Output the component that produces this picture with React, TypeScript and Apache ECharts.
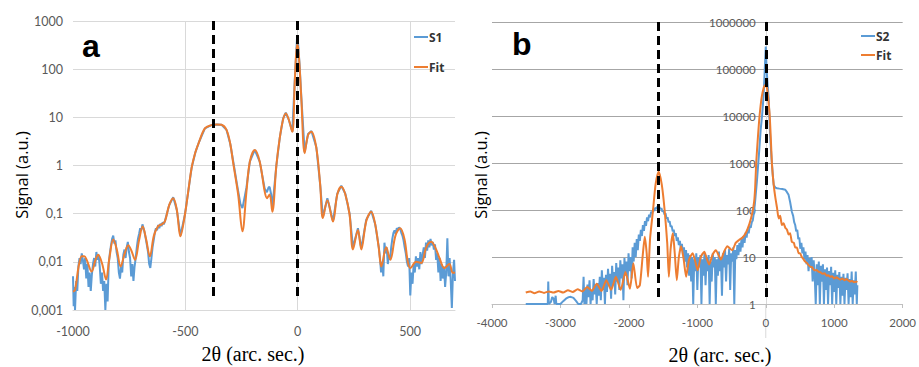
import React, { useEffect, useRef } from "react";
import * as echarts from "echarts";

// ---------- data ----------
const A_X_TICKS = { min: -1000, max: 700, step: 500 };
const B_X_TICKS = { min: -4000, max: 2000, step: 1000 };
const A_Y_RANGE = { min: 0.001, max: 1000 };
const B_Y_RANGE = { min: 1, max: 1000000 };
const A_DASHED_X = [-378, 0];
const B_DASHED_X = [-1565, 0];

const S1: [number, number][] = [
  [-1000, 0.005], [-997, 0.0012], [-994, 0.003], [-991, 0.001], [-986, 0.004], [-981, 0.0025], [-976, 0.008],
  [-971, 0.012], [-966, 0.009], [-961, 0.015], [-956, 0.011], [-951, 0.007], [-946, 0.012], [-941, 0.0045],
  [-936, 0.009], [-931, 0.003], [-926, 0.006], [-921, 0.0025], [-916, 0.0055], [-911, 0.009], [-906, 0.012],
  [-901, 0.008], [-896, 0.016], [-891, 0.011], [-886, 0.014], [-881, 0.008], [-876, 0.0035], [-871, 0.006],
  [-866, 0.0025], [-861, 0.004], [-856, 0.001], [-851, 0.0035], [-846, 0.0015], [-841, 0.009], [-836, 0.015],
  [-831, 0.022], [-826, 0.03], [-821, 0.035], [-816, 0.024], [-811, 0.028], [-806, 0.016], [-801, 0.012],
  [-796, 0.006], [-791, 0.0045], [-786, 0.008], [-781, 0.006], [-776, 0.014], [-771, 0.018], [-766, 0.012],
  [-761, 0.02], [-756, 0.026], [-751, 0.016], [-746, 0.012], [-741, 0.005], [-736, 0.009], [-731, 0.004],
  [-726, 0.008], [-721, 0.012], [-716, 0.02], [-711, 0.03], [-706, 0.038], [-701, 0.05], [-696, 0.045],
  [-691, 0.06], [-686, 0.05], [-681, 0.04], [-676, 0.03], [-671, 0.022], [-666, 0.016], [-661, 0.009],
  [-656, 0.0075], [-651, 0.012], [-646, 0.02], [-641, 0.028], [-636, 0.04], [-631, 0.05], [-626, 0.045],
  [-621, 0.058], [-616, 0.05], [-611, 0.062], [-606, 0.055], [-601, 0.066], [-596, 0.06], [-591, 0.07],
  [-572, 0.15], [-554, 0.22], [-538, 0.12], [-522, 0.035], [-502, 0.095], [-488, 0.27], [-472, 0.9],
  [-455, 1.9], [-440, 3.0], [-413, 5.9], [-384, 6.9], [-360, 7.1], [-339, 7.0], [-317, 5.5], [-300, 2.8],
  [-288, 1.3], [-270, 0.4], [-255, 0.16], [-246, 0.13], [-238, 0.2], [-228, 0.35], [-213, 1.2], [-191, 2.1],
  [-169, 1.2], [-147, 0.33], [-137, 0.28], [-130, 0.35], [-125, 0.36], [-118, 0.25], [-113, 0.13], [-95, 1.0],
  [-80, 3.7], [-65, 9.5], [-53, 12.5], [-40, 9], [-24, 5.0], [-13, 60], [-3, 440], [1, 380], [8, 130],
  [16, 27], [31, 1.9], [46, 4.5], [61, 5.2], [83, 2.4], [100, 0.4], [112, 0.085], [132, 0.21], [157, 0.07],
  [176, 0.26], [194, 0.38], [212, 0.26], [231, 0.1], [246, 0.02], [268, 0.05], [283, 0.019], [305, 0.075],
  [327, 0.115], [345, 0.06], [361, 0.02], [366, 0.012], [371, 0.006], [376, 0.01], [381, 0.005], [386, 0.025],
  [391, 0.015], [396, 0.02], [401, 0.009], [406, 0.014], [411, 0.011], [416, 0.02], [421, 0.03], [426, 0.04],
  [431, 0.045], [436, 0.038], [441, 0.05], [446, 0.046], [451, 0.052], [456, 0.048], [461, 0.04], [466, 0.035],
  [471, 0.028], [476, 0.02], [481, 0.015], [486, 0.01], [491, 0.008], [496, 0.012], [501, 0.002], [506, 0.006],
  [511, 0.0035], [516, 0.009], [521, 0.006], [526, 0.013], [531, 0.008], [536, 0.012], [541, 0.007], [546, 0.016],
  [551, 0.009], [556, 0.014], [561, 0.02], [566, 0.012], [571, 0.025], [576, 0.017], [581, 0.028], [586, 0.02],
  [591, 0.03], [596, 0.022], [601, 0.026], [606, 0.018], [611, 0.023], [616, 0.011], [621, 0.015], [626, 0.006],
  [631, 0.012], [636, 0.004], [641, 0.009], [646, 0.0045], [651, 0.008], [656, 0.003], [661, 0.006], [666, 0.031],
  [671, 0.005], [676, 0.012], [681, 0.004], [686, 0.0011], [691, 0.006], [696, 0.011], [700, 0.004],
];

const FIT_A: [number, number][] = [
  [-1000, 0.0024], [-991, 0.0026], [-975, 0.008], [-961, 0.013], [-950, 0.013], [-939, 0.011], [-917, 0.0063],
  [-900, 0.011], [-888, 0.014], [-870, 0.009], [-853, 0.0043], [-838, 0.012], [-821, 0.029], [-805, 0.018],
  [-788, 0.008], [-770, 0.015], [-754, 0.022], [-740, 0.017], [-724, 0.011], [-706, 0.028], [-690, 0.054],
  [-675, 0.03], [-658, 0.013], [-640, 0.035], [-621, 0.055], [-605, 0.06], [-591, 0.069], [-572, 0.15],
  [-554, 0.21], [-538, 0.12], [-522, 0.034], [-502, 0.095], [-488, 0.27], [-472, 0.9], [-455, 1.9], [-440, 3.0],
  [-413, 5.9], [-384, 6.9], [-360, 7.1], [-339, 7.0], [-317, 5.5], [-300, 2.8], [-288, 1.2], [-265, 0.25],
  [-246, 0.043], [-228, 0.29], [-213, 1.2], [-191, 2.1], [-169, 1.2], [-147, 0.29], [-137, 0.21], [-125, 0.25],
  [-113, 0.11], [-95, 1.0], [-80, 3.7], [-65, 9], [-53, 12], [-40, 9], [-24, 5.0], [-13, 55], [-3, 320],
  [1, 300], [8, 120], [16, 25], [31, 1.8], [46, 4.3], [61, 5.0], [83, 2.3], [100, 0.4], [112, 0.081],
  [132, 0.19], [157, 0.069], [176, 0.25], [194, 0.36], [212, 0.25], [231, 0.095], [246, 0.018], [268, 0.046],
  [283, 0.018], [305, 0.07], [327, 0.11], [345, 0.06], [361, 0.019], [372, 0.008], [394, 0.02], [412, 0.011],
  [435, 0.035], [456, 0.05], [475, 0.03], [490, 0.01], [501, 0.0074], [527, 0.01], [550, 0.0095], [572, 0.02],
  [594, 0.026], [612, 0.02], [631, 0.012], [653, 0.0074], [675, 0.009], [690, 0.0059], [700, 0.006],
];

const S2: [number, number][] = [
  [-3507, 1], [-3400, 1], [-3300, 1], [-3185, 1], [-3178, 3.0], [-3170, 1], [-3140, 1.1], [-3120, 1.4],
  [-3100, 1.3], [-3085, 1], [-3070, 1.5], [-3060, 1], [-3000, 1], [-2960, 1.15], [-2920, 1.3], [-2880, 1.4],
  [-2850, 1.42], [-2810, 1.35], [-2770, 1.15], [-2740, 1], [-2700, 1], [-2675, 1.2], [-2662, 3.8], [-2650, 1],
  [-2635, 2.2], [-2620, 1], [-2605, 2.6], [-2590, 1.4], [-2575, 3.2], [-2560, 1], [-2545, 2.0], [-2530, 1.2],
  [-2515, 3.4], [-2500, 1.6], [-2485, 2.6], [-2470, 1], [-2455, 2.8], [-2440, 1.5], [-2425, 3.8], [-2410, 1.2],
  [-2395, 5.2], [-2380, 2.0], [-2365, 3.6], [-2350, 1], [-2335, 4.2], [-2320, 1.8], [-2305, 5.6], [-2290, 2.4],
  [-2275, 4.4], [-2260, 1.3], [-2245, 6.5], [-2230, 2.5], [-2215, 4.8], [-2200, 1.6], [-2185, 7.4], [-2170, 3.0],
  [-2155, 6.0], [-2140, 2.0], [-2125, 8.5], [-2110, 3.5], [-2095, 7.0], [-2080, 1.2], [-2065, 9.5], [-2050, 4.0],
  [-2035, 8.0], [-2020, 2.5], [-2005, 12], [-1990, 5], [-1975, 10], [-1960, 3.5], [-1945, 16], [-1930, 8],
  [-1915, 20], [-1900, 10], [-1885, 24], [-1870, 14], [-1855, 30], [-1840, 22], [-1825, 38], [-1810, 28],
  [-1795, 48], [-1780, 36], [-1765, 58], [-1750, 46], [-1735, 70], [-1720, 58], [-1705, 80], [-1690, 70],
  [-1675, 92], [-1660, 85], [-1645, 105], [-1630, 95], [-1615, 112], [-1600, 105], [-1585, 118], [-1570, 110],
  [-1555, 117], [-1540, 104], [-1525, 110], [-1510, 92], [-1495, 98], [-1480, 80], [-1465, 85], [-1450, 66],
  [-1435, 70], [-1420, 55], [-1405, 58], [-1390, 44], [-1375, 46], [-1360, 35], [-1345, 38], [-1330, 28],
  [-1315, 32], [-1300, 22], [-1285, 26], [-1270, 18], [-1255, 22], [-1240, 14], [-1225, 19], [-1210, 11],
  [-1195, 16], [-1180, 8], [-1165, 14], [-1150, 6], [-1135, 12], [-1120, 4], [-1105, 11], [-1090, 3],
  [-1075, 10], [-1060, 1], [-1045, 9], [-1030, 5], [-1015, 12], [-1000, 2], [-985, 10], [-970, 6], [-955, 11],
  [-940, 1], [-925, 9], [-910, 4], [-895, 12], [-880, 2.5], [-865, 10], [-850, 5], [-835, 11], [-820, 1],
  [-805, 8], [-790, 3], [-775, 12], [-760, 6], [-745, 10], [-730, 1], [-715, 9], [-700, 4], [-685, 13],
  [-670, 5], [-655, 10], [-640, 1.5], [-625, 12], [-610, 6], [-595, 14], [-580, 3], [-565, 11], [-550, 7],
  [-535, 15], [-520, 2], [-505, 12], [-490, 8], [-475, 16], [-460, 1], [-445, 14], [-430, 9], [-415, 18],
  [-400, 11], [-385, 20], [-370, 13], [-355, 24], [-340, 16], [-325, 28], [-310, 20], [-295, 33], [-280, 26],
  [-265, 38], [-250, 32], [-235, 45], [-220, 42], [-205, 55], [-190, 60], [-175, 85], [-160, 130], [-130, 400],
  [-100, 1500], [-75, 5000], [-53, 10500], [-30, 30000], [-12, 120000], [0, 300000], [12, 100000], [30, 40000],
  [43, 24000], [60, 5000], [75, 2000], [91, 910], [105, 500], [116, 340], [140, 300], [164, 290], [200, 285],
  [240, 280], [285, 270], [310, 240], [333, 210], [355, 150], [381, 92], [400, 75], [415, 55], [430, 48],
  [445, 35], [460, 38], [475, 24], [490, 26], [505, 15], [520, 20], [535, 12], [550, 16], [565, 9], [580, 13],
  [595, 7], [610, 11], [625, 5], [640, 9.5], [655, 6], [670, 10], [685, 3], [700, 8.5], [715, 4], [730, 1],
  [745, 7], [760, 2.5], [775, 8], [790, 1], [805, 6.5], [820, 3], [835, 7], [850, 1], [865, 5.5], [880, 2],
  [895, 6], [910, 1], [925, 5], [940, 2.5], [955, 6.2], [970, 1], [985, 4.6], [1000, 1.8], [1015, 5.2],
  [1030, 1], [1045, 4.2], [1060, 2.2], [1075, 4.8], [1090, 1], [1105, 3.8], [1120, 1.5], [1135, 4.4],
  [1150, 1], [1165, 3.6], [1180, 2], [1195, 4.5], [1210, 1], [1225, 3.4], [1240, 1.4], [1255, 4.9],
  [1270, 1], [1285, 3.2], [1300, 1.6], [1315, 4.9], [1330, 1], [1338, 2.5],
];

const FIT_B: [number, number][] = [
  [-3507, 1.75], [-3440, 1.85], [-3380, 1.7], [-3310, 1.85], [-3240, 1.72], [-3170, 1.85], [-3100, 1.75],
  [-3030, 1.9], [-2960, 1.75], [-2890, 1.95], [-2820, 1.8], [-2750, 2.05], [-2680, 1.85], [-2610, 2.3],
  [-2540, 1.9], [-2470, 2.7], [-2400, 1.9], [-2330, 3.2], [-2260, 2.0], [-2190, 3.8], [-2120, 2.0],
  [-2050, 4.8], [-1985, 2.1], [-1935, 7.4], [-1880, 2.2], [-1840, 2.5], [-1800, 10], [-1768, 27], [-1740, 12],
  [-1720, 3.8], [-1690, 25], [-1647, 100], [-1610, 350], [-1565, 650], [-1520, 350], [-1478, 100], [-1440, 20],
  [-1416, 3.8], [-1390, 15], [-1357, 32], [-1330, 12], [-1300, 3.2], [-1270, 10], [-1236, 17], [-1200, 9],
  [-1164, 3.8], [-1120, 9], [-1068, 12], [-1030, 8], [-995, 5.2], [-950, 10], [-898, 13], [-860, 9],
  [-826, 6.9], [-780, 11], [-729, 14], [-690, 11], [-656, 8.8], [-610, 13], [-561, 17], [-520, 15],
  [-488, 14], [-440, 20], [-391, 23], [-340, 26], [-294, 32], [-240, 50], [-198, 85], [-170, 150],
  [-155, 300], [-140, 1000], [-115, 3500], [-91, 10000], [-60, 25000], [-30, 40000], [-5, 46000], [20, 38000],
  [40, 20000], [58, 10000], [75, 3000], [91, 910], [115, 350], [141, 178], [165, 110], [188, 66], [210, 75],
  [236, 48], [260, 52], [285, 42], [310, 38], [333, 30], [355, 32], [381, 21], [410, 20], [430, 16],
  [454, 16], [480, 12], [500, 12], [526, 10], [550, 9], [575, 8], [600, 7.5], [623, 6.8], [650, 6.2],
  [680, 6], [710, 5.2], [740, 5.3], [768, 4.9], [800, 4.7], [830, 4.4], [860, 4.5], [890, 4.0], [913, 4.1],
  [940, 3.8], [970, 3.9], [1000, 3.5], [1030, 3.7], [1058, 3.5], [1090, 3.3], [1120, 3.5], [1150, 3.2],
  [1180, 3.4], [1203, 3.2], [1230, 3.0], [1260, 3.1], [1290, 2.9], [1320, 3.0], [1338, 2.9],
];

// ---------- styles ----------
const BLUE = "#5b9bd5";
const ORANGE = "#ed7d31";
const TICK_FONT = '"Lato", "Open Sans", sans-serif';
const LEGEND_FONT = '"Liberation Sans Narrow", "Open Sans", sans-serif';

function commaLabel(v: number): string {
  const e = Math.round(Math.log10(v));
  if (e >= 0) return String(Math.pow(10, e));
  return "0," + "0".repeat(-e - 1) + "1";
}
function intLabel(v: number): string {
  return String(Math.round(v));
}

function dashed(xs: number[], yTop: number, yBottom: number) {
  return {
    silent: true,
    symbol: ["none", "none"],
    label: { show: false },
    lineStyle: { color: "#000", width: 3, type: [9, 5] },
    data: xs.map((x) => [{ coord: [x, yTop] }, { coord: [x, yBottom] }]),
  };
}

export default function App() {
  const ref = useRef<HTMLDivElement>(null);
  useEffect(() => {
    if (!ref.current) return;
    const chart = echarts.init(ref.current, undefined, { renderer: "svg" });
    const option: any = {
      animation: false,
      grid: [
        { left: 73, right: 464, top: 21, bottom: 57 },
        { left: 492, right: 13, top: 22, bottom: 63 },
      ],
      xAxis: [
        {
          gridIndex: 0, type: "value", min: A_X_TICKS.min, max: A_X_TICKS.max, interval: A_X_TICKS.step,
          axisLine: { onZero: false, lineStyle: { color: "#d9d9d9" } },
          axisTick: { show: false },
          axisLabel: { showMaxLabel: false, margin: 15, color: "#595959", fontSize: 12.5, fontFamily: TICK_FONT, formatter: intLabel },
          splitLine: { show: true, showMinLine: false, showMaxLine: false, lineStyle: { color: "#d9d9d9" } },
        },
        {
          gridIndex: 1, type: "value", min: B_X_TICKS.min, max: B_X_TICKS.max, interval: B_X_TICKS.step,
          axisLine: { onZero: false, lineStyle: { color: "#bfbfbf" } },
          axisTick: { show: true, length: 4, lineStyle: { color: "#bfbfbf" } },
          axisLabel: { margin: 12, color: "#595959", fontSize: 11.5, fontFamily: TICK_FONT, formatter: intLabel },
          splitLine: { show: false },
        },
      ],
      yAxis: [
        {
          gridIndex: 0, type: "log", logBase: 10, min: A_Y_RANGE.min, max: A_Y_RANGE.max,
          axisLine: { show: false, onZero: false },
          axisTick: { show: false },
          axisLabel: { formatter: commaLabel, margin: 10, color: "#595959", fontSize: 12.5, fontFamily: TICK_FONT },
          splitLine: { show: true, lineStyle: { color: "#d9d9d9" } },
        },
        {
          gridIndex: 1, type: "log", logBase: 10, min: B_Y_RANGE.min, max: B_Y_RANGE.max, position: "left", offset: 0,
          axisLine: { show: true, onZero: false, lineStyle: { color: "#d9d9d9" } },
          axisTick: { show: false },
          axisLabel: { formatter: intLabel, margin: 10, color: "#595959", fontSize: 11.5, fontFamily: TICK_FONT },
          splitLine: { show: true, lineStyle: { color: "#a6a6a6" } },
        },
      ],
      legend: [
        {
          data: ["S1", "Fit"], orient: "vertical", left: 409, top: 26, itemGap: 18,
          icon: "rect", itemWidth: 14, itemHeight: 2, selectedMode: false,
          textStyle: { fontSize: 12, fontWeight: "bold", color: "#333", fontFamily: LEGEND_FONT, padding: [0, 0, 0, -4] },
        },
        {
          data: ["S2", "Fit"], orient: "vertical", left: 856, top: 25, itemGap: 7,
          icon: "rect", itemWidth: 14, itemHeight: 2, selectedMode: false,
          textStyle: { fontSize: 12, fontWeight: "bold", color: "#333", fontFamily: LEGEND_FONT, padding: [0, 0, 0, -4] },
        },
      ],
      series: [
        {
          name: "S1", type: "line", xAxisIndex: 0, yAxisIndex: 0, data: S1, showSymbol: false,
          lineStyle: { color: BLUE, width: 2 }, itemStyle: { color: BLUE },
        },
        {
          name: "Fit", type: "line", xAxisIndex: 0, yAxisIndex: 0, data: FIT_A, showSymbol: false, smooth: 0.35,
          lineStyle: { color: ORANGE, width: 2 }, itemStyle: { color: ORANGE },
          markLine: dashed(A_DASHED_X, A_Y_RANGE.max, 0.0018),
        },
        {
          name: "S2", type: "line", xAxisIndex: 1, yAxisIndex: 1, data: S2, showSymbol: false,
          lineStyle: { color: BLUE, width: 2 }, itemStyle: { color: BLUE },
        },
        {
          name: "Fit", type: "line", xAxisIndex: 1, yAxisIndex: 1, data: FIT_B, showSymbol: false, smooth: 0.2,
          lineStyle: { color: ORANGE, width: 2 }, itemStyle: { color: ORANGE },
          markLine: dashed(B_DASHED_X, B_Y_RANGE.max, 1.4),
        },
      ],
    };
    chart.setOption(option);
    // place panel b's y axis where x = 0, using the library's own scale
    const p0 = chart.convertToPixel({ xAxisIndex: 1, yAxisIndex: 1 } as any, [0, B_Y_RANGE.min]) as number[];
    const pMin = chart.convertToPixel({ xAxisIndex: 1, yAxisIndex: 1 } as any, [B_X_TICKS.min, B_Y_RANGE.min]) as number[];
    chart.setOption({
      yAxis: [{}, { offset: -(p0[0] - pMin[0]) }],
      graphic: [
        { type: "text", x: 82, y: 46, style: { text: "a", font: 'bold 32px "Liberation Sans", Arial, sans-serif', fill: "#000", textVerticalAlign: "middle" } },
        { type: "text", x: 512, y: 44, style: { text: "b", font: 'bold 32px "Liberation Sans", Arial, sans-serif', fill: "#000", textVerticalAlign: "middle" } },
        { type: "text", x: 21, y: 175, rotation: Math.PI / 2, style: { text: "Signal (a.u.)", font: '16.5px "Open Sans", sans-serif', fill: "#000", textAlign: "center", textVerticalAlign: "middle" } },
        { type: "text", x: 480, y: 175, rotation: Math.PI / 2, style: { text: "Signal (a.u.)", font: '16.5px "Open Sans", sans-serif', fill: "#000", textAlign: "center", textVerticalAlign: "middle" } },
        { type: "text", x: 253, y: 354, style: { text: "2θ (arc. sec.)", font: '20px "Liberation Serif", "Times New Roman", serif', fill: "#000", textAlign: "center", textVerticalAlign: "middle" } },
        { type: "text", x: 720, y: 355, style: { text: "2θ (arc. sec.)", font: '20px "Liberation Serif", "Times New Roman", serif', fill: "#000", textAlign: "center", textVerticalAlign: "middle" } },
        { type: "line", shape: { x1: p0[0], y1: p0[1], x2: p0[0], y2: p0[1] + 34 }, style: { stroke: "#d9d9d9", lineWidth: 1 }, silent: true },
      ],
    });
    return () => chart.dispose();
  }, []);
  return <div ref={ref} style={{ position: "fixed", left: 0, top: 0, width: 919, height: 367, background: "#fff" }} />;
}
